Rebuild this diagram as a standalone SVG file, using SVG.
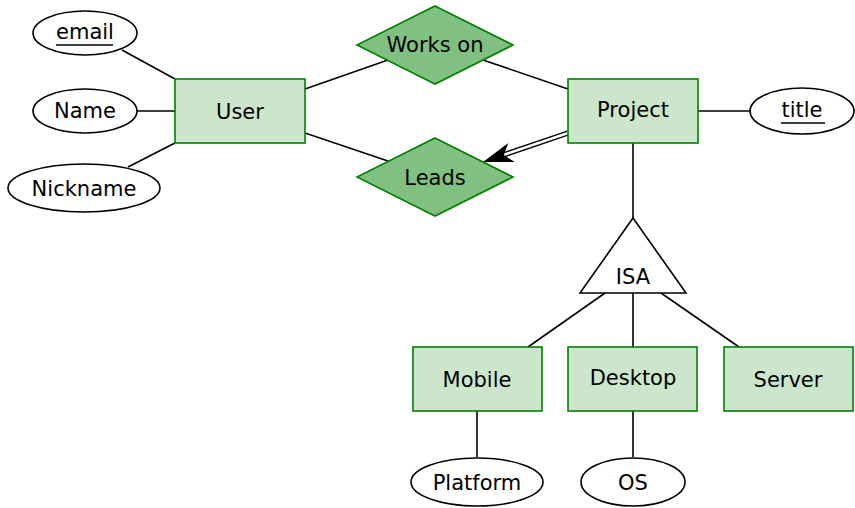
<svg xmlns="http://www.w3.org/2000/svg" width="855" height="508" viewBox="0 0 855 508">
<style>
.ent{fill:#cce6cc;stroke:#008000;stroke-width:1.6}
.rel{fill:#80c080;stroke:#008000;stroke-width:1.6}
.att{fill:#fff;stroke:#000;stroke-width:1.6}
.isa{fill:#fff;stroke:#000;stroke-width:1.6;stroke-linejoin:miter}
.ln{stroke:#000;stroke-width:1.6;fill:none}
.dl{stroke:#000;stroke-width:1.4;fill:none}
text{font-family:"DejaVu Sans","Liberation Sans",sans-serif;font-size:21px;fill:#000;text-anchor:middle}
</style>
<rect width="855" height="508" fill="#fff"/>
<g id="connectors">
<path class="ln" d="M122,50L175,79M137,111H175M128,167L175,143"/>
<path class="ln" d="M305,89L388,60M483,60L568,89M305,133L388,161"/>
<path class="dl" d="M567.4,131.1L503.4,152.8M568.6,134.9L504.6,156.6"/>
<path d="M483,162L508.3,143L503.9,155L514.7,162Z" fill="#000"/>
<path class="ln" d="M698,111H750"/>
<path class="ln" d="M633,143V218"/>
<path class="ln" d="M605,293L528,347M633,293V347M661,293L739,347"/>
<path class="ln" d="M477,411V457M633,411V457"/>
</g>
<g id="email"><ellipse class="att" cx="85" cy="33" rx="52" ry="22"/><text x="85" y="39">email</text><path class="ln" d="M56,45H113"/></g>
<g id="name"><ellipse class="att" cx="85" cy="111" rx="52" ry="22"/><text x="85" y="118">Name</text></g>
<g id="nickname"><ellipse class="att" cx="84" cy="188" rx="76" ry="24"/><text x="84" y="196">Nickname</text></g>
<g id="user"><rect class="ent" x="175" y="79" width="130" height="64"/><text x="240" y="119">User</text></g>
<g id="workson"><path class="rel" d="M435,6L513,45L435,84L357,45Z"/><text x="435" y="52">Works on</text></g>
<g id="leads"><path class="rel" d="M435,138L513,177L435,216L357,177Z"/><text x="435" y="185">Leads</text></g>
<g id="project"><rect class="ent" x="568" y="79" width="130" height="64"/><text x="633" y="117">Project</text></g>
<g id="title"><ellipse class="att" cx="802" cy="111" rx="52" ry="23"/><text x="802" y="117">title</text><path class="ln" d="M781,123H825"/></g>
<g id="isa"><path class="isa" d="M633,218L686,293H580Z"/><text x="633" y="284">ISA</text></g>
<g id="mobile"><rect class="ent" x="413" y="347" width="129" height="64"/><text x="477" y="387">Mobile</text></g>
<g id="desktop"><rect class="ent" x="568" y="347" width="129" height="64"/><text x="633" y="385">Desktop</text></g>
<g id="server"><rect class="ent" x="724" y="347" width="129" height="64"/><text x="788" y="387">Server</text></g>
<g id="platform"><ellipse class="att" cx="477" cy="482" rx="66" ry="24"/><text x="477" y="490">Platform</text></g>
<g id="os"><ellipse class="att" cx="633" cy="482" rx="52" ry="24"/><text x="633" y="490">OS</text></g>
</svg>
